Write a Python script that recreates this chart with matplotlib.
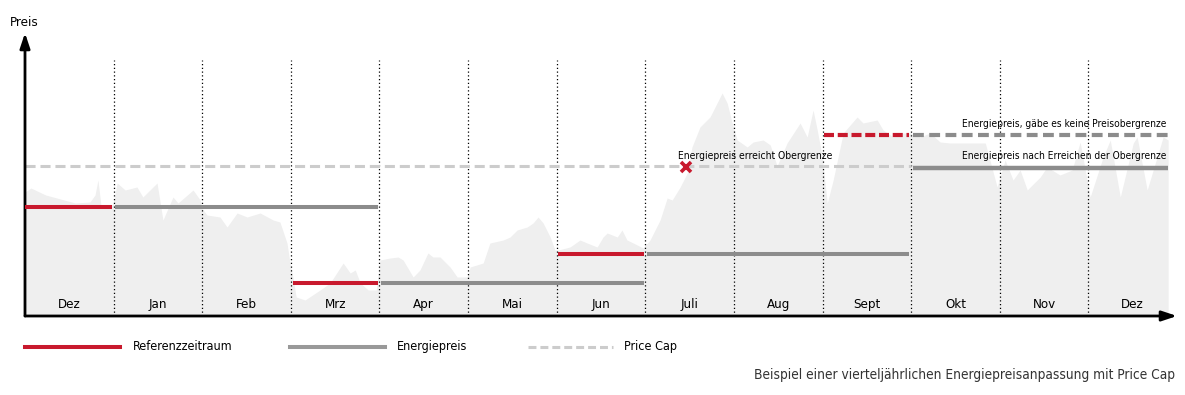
import matplotlib
matplotlib.use('Agg')
import matplotlib.pyplot as plt
from matplotlib import font_manager
from matplotlib.lines import Line2D

# condensed font if there is one
names = {f.name for f in font_manager.fontManager.ttflist}
if 'Liberation Sans Narrow' in names:
    FONT = 'Liberation Sans Narrow'
    STRETCH = 'normal'
else:
    FONT = 'DejaVu Sans'
    STRETCH = 'condensed'
plt.rcParams['font.family'] = [FONT, 'DejaVu Sans']
plt.rcParams['font.stretch'] = STRETCH

RED = '#c8192d'
GRAY = '#8c8c8c'
LIGHT = '#cccccc'
AREA = '#efefef'

DAYS_PER_MONTH = 30

months = ['Dez', 'Jan', 'Feb', 'Mrz', 'Apr', 'Mai', 'Jun', 'Juli', 'Aug', 'Sept', 'Okt', 'Nov', 'Dez']

# market price (grey area), day index / price
price_day = [0, 2, 7, 12, 17, 22, 23.7, 24.7, 25.7, 28.8, 29.8,
             31.2, 33.9, 37.9, 39.9, 44.7, 46.7, 50.1, 51.8, 56.9, 59.3, 59.9,
             61.6, 66, 68.4, 71.8, 75.2, 79.6, 84, 86.3, 88.7, 89.7, 90.7,
             91.8, 94.8, 99.9, 103.3, 107.7, 110.1, 111.8, 113.5, 116.2, 118.9,
             120.2, 123.6, 126.3, 128, 131.4, 133.7, 136.4, 138.1, 140.5, 143.9, 146.3, 149.7,
             150.7, 155.1, 157.4, 161.9, 164.2, 166.6, 170, 172, 173.7, 175.4, 177.8, 179.4,
             180.5, 184.5, 187.9, 190.3, 193.7, 195.7, 197.1, 200.5, 202.1, 203.8, 205.9, 209.3,
             211.6, 215, 217.4, 219.1, 221.8, 224.2, 225.8, 228.5, 231.9, 236, 237.7, 239.4, 241.1,
             244.5, 246.5, 249.9, 252.3, 254.6, 258, 262.4, 264.8, 266.8, 268.2, 269.9, 271.6,
             273.6, 277, 281.7, 283.7, 288.5, 290.5, 293.9, 296.3, 299.7,
             303, 306.4, 309.8, 313.2, 316.6, 325.1, 329.1, 331.8, 334.5, 336.9, 339.3,
             340.3, 343.7, 346, 350.4, 354.5, 357.2, 360.6, 365, 367.4, 370.8, 375.2, 376.5, 379.9, 385.3, 387]
price_val = [124, 128, 121, 117, 113, 114, 121, 136, 111, 110, 112,
             133, 126, 129, 119, 133, 96, 119, 113, 126, 116, 108,
             101, 99, 89, 103, 99, 103, 96, 94, 73, 53, 39,
             19, 16, 26, 33, 53, 43, 46, 33, 26, 26,
             56, 58, 59, 56, 39, 46, 63, 59, 59, 49, 39, 39,
             49, 53, 73, 76, 79, 86, 89, 93, 99, 93, 79, 66,
             66, 69, 76, 73, 69, 79, 83, 79, 86, 76, 73, 68,
             76, 96, 118, 116, 129, 143, 169, 189, 199, 223, 213, 193, 176,
             169, 174, 176, 171, 150, 173, 193, 179, 206, 186, 159, 113,
             136, 183, 199, 193, 196, 186, 179, 183, 183,
             179, 183, 174, 173, 173, 173, 129, 156, 136, 146, 126,
             129, 139, 149, 141, 146, 174, 119, 159, 176, 119, 173, 179, 126, 179, 176]
last_day = price_day[-1]

# quarterly prices: (first month, last month, level)
ref_start = [0, 3, 6]
ref_end = [1, 4, 7]
ref_level = [109, 33, 62]
energy_start = [1, 4, 7]
energy_end = [4, 7, 10]
energy_level = [109, 33, 62]
capped_level = 148
cap_level = 150
cap_end = 10
uncapped_ref = 181
cap_hit = (223.7, 149)

fig = plt.figure(figsize=(11.85, 3.95), dpi=100)
ax = fig.add_axes([25 / 1185, 79 / 395, 1152 / 1185, 283 / 395])
ax.set_xlim(0, 390)
ax.set_ylim(0, 283)
ax.axis('off')

ax.fill_between(price_day, price_val, 0, color=AREA, lw=0, zorder=0)

for m in range(1, 13):
    ax.plot([m * DAYS_PER_MONTH] * 2, [0, 256], color='black', lw=0.9,
            linestyle=(0, (1, 2)), zorder=1)

for i, name in enumerate(months):
    ax.text(i * DAYS_PER_MONTH + 15, 8, name, ha='center', va='baseline', fontsize=9.5)

gap = 0.6


def seg(a, b):
    x0 = a * DAYS_PER_MONTH
    x1 = min(b * DAYS_PER_MONTH, last_day)
    return [x0 + (gap if x0 > 0 else 0), x1 - (gap if x1 < last_day else 0)]


# price cap
ax.plot([0, cap_end * DAYS_PER_MONTH], [cap_level] * 2, color=LIGHT, lw=2.2,
        dashes=(3.3, 1.6), zorder=2)
for a, b, v in zip(energy_start, energy_end, energy_level):
    ax.plot(seg(a, b), [v, v], color=GRAY, lw=2.9, solid_capstyle='butt', zorder=3)
for a, b, v in zip(ref_start, ref_end, ref_level):
    ax.plot(seg(a, b), [v, v], color=RED, lw=2.9, solid_capstyle='butt', zorder=4)

ax.plot(seg(10, 13), [capped_level] * 2, color=GRAY, lw=3.2, solid_capstyle='butt', zorder=3)
ax.plot(seg(9, 10), [uncapped_ref] * 2, color=RED, lw=3, dashes=(2.4, 0.9), zorder=4)
ax.plot(seg(10, 13), [uncapped_ref] * 2, color=GRAY, lw=3, dashes=(2.6, 1.3), zorder=3)

ax.plot(*cap_hit, marker='x', color=RED, ms=7, mew=2.6, zorder=5)

ax.text(221, 160, 'Energiepreis erreicht Obergrenze', fontsize=7.4, va='center', ha='left')
ax.text(386.5, 192, 'Energiepreis, gäbe es keine Preisobergrenze', fontsize=7.3,
        va='center', ha='right')
ax.text(386.5, 160, 'Energiepreis nach Erreichen der Obergrenze', fontsize=7.3,
        va='center', ha='right')

# axes arrows
arrow = dict(arrowstyle='-|>,head_length=0.9,head_width=0.3', color='black', lw=2,
             mutation_scale=10, shrinkA=0, shrinkB=0)
ax.annotate('', xy=(390, 0), xytext=(0, 0), arrowprops=arrow, annotation_clip=False)
ax.annotate('', xy=(0, 283), xytext=(0, 0), arrowprops=arrow, annotation_clip=False)
fig.text(10 / 1185, 1 - 22 / 395, 'Preis', fontsize=9.5, va='center', ha='left')

# legend
leg_y = 1 - 347 / 395
txt_y = 1 - 345 / 395
fig.add_artist(Line2D([25 / 1185, 120 / 1185], [leg_y] * 2, color=RED, lw=2.9))
fig.text(133 / 1185, txt_y, 'Referenzzeitraum', fontsize=9, va='center_baseline')
fig.add_artist(Line2D([290 / 1185, 385 / 1185], [leg_y] * 2, color='#999999', lw=2.9))
fig.text(397 / 1185, txt_y, 'Energiepreis', fontsize=9, va='center_baseline')
fig.add_artist(Line2D([528 / 1185, 613 / 1185], [leg_y] * 2, color=LIGHT, lw=2.2,
                      dashes=(2.6, 1.3)))
fig.text(624 / 1185, txt_y, 'Price Cap', fontsize=9, va='center_baseline')

fig.text(1175 / 1185, 1 - 375 / 395,
         'Beispiel einer vierteljährlichen Energiepreisanpassung mit Price Cap',
         fontsize=9.8, va='center', ha='right', color='#333333')

fig.savefig('out.png', dpi=100)
